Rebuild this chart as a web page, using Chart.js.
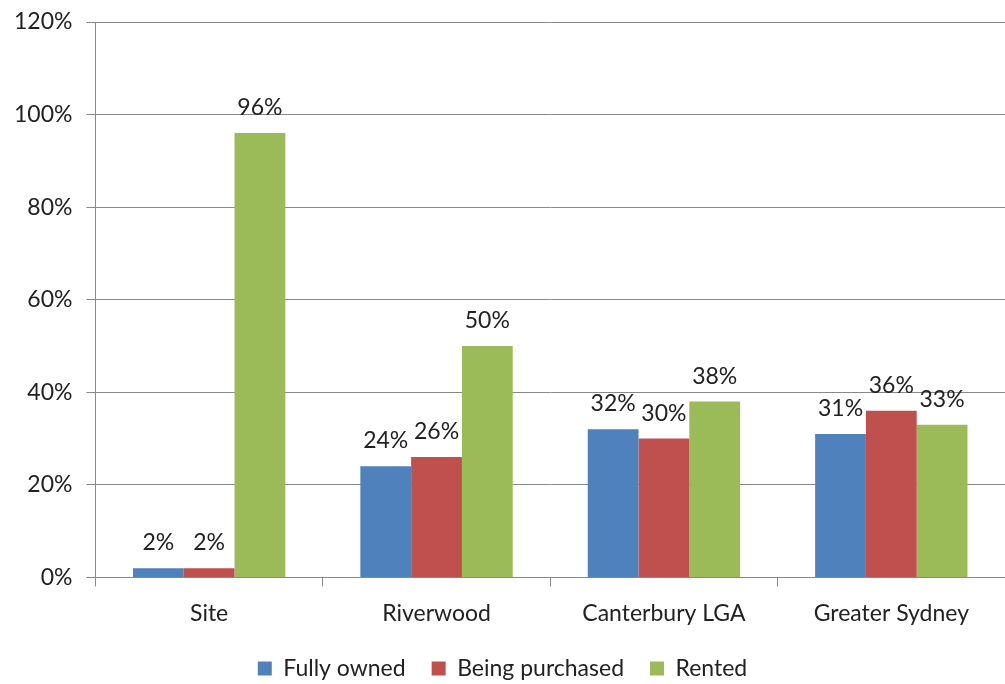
<!DOCTYPE html>
<html>
<head>
<meta charset="utf-8">
<script src="https://cdn.jsdelivr.net/npm/chart.js@4/dist/chart.umd.min.js"></script>
<style>
  html, body { margin: 0; padding: 0; background: #fff; }
  #wrap { width: 1005px; height: 684px; }
</style>
</head>
<body>
<div id="wrap"><canvas id="tenureChart"></canvas></div>
<script>
const areas = ['Site', 'Riverwood', 'Canterbury LGA', 'Greater Sydney'];
const fullyOwned = [2, 24, 32, 31];
const beingPurchased = [2, 26, 30, 36];
const rented = [96, 50, 38, 33];
const yTicks = [0, 20, 40, 60, 80, 100, 120];

const FONT = 'Lato, "Open Sans", sans-serif';
const SIZE = 23;

// writes the percentage above every bar
const valueLabels = {
    id: 'valueLabels',
    afterDatasetsDraw(chart) {
        const ctx = chart.ctx;
        ctx.save();
        ctx.font = SIZE + 'px ' + FONT;
        ctx.fillStyle = '#222';
        ctx.textAlign = 'center';
        ctx.textBaseline = 'alphabetic';
        chart.data.datasets.forEach((ds, i) => {
            chart.getDatasetMeta(i).data.forEach((bar, j) => {
                ctx.fillText(ds.data[j] + '%', bar.x, bar.y - 18);
            });
        });
        ctx.restore();
    }
};

// push the legend a little closer to the bottom edge
const legendDown = {
    id: 'legendDown',
    afterLayout(chart) {
        chart.legend.top += 6;
        chart.legend.bottom += 6;
    }
};

const ctx = document.getElementById('tenureChart').getContext('2d');
new Chart(ctx, {
    type: 'bar',
    data: {
        labels: areas,
        datasets: [
            { label: 'Fully owned', data: fullyOwned, backgroundColor: '#4F81BD' },
            { label: 'Being purchased', data: beingPurchased, backgroundColor: '#C0504D' },
            { label: 'Rented', data: rented, backgroundColor: '#9BBB59' }
        ]
    },
    options: {
        responsive: true,
        maintainAspectRatio: false,
        animation: false,
        layout: { padding: 0 },
        datasets: {
            bar: { categoryPercentage: 0.67, barPercentage: 1.0 }
        },
        plugins: {
            legend: {
                position: 'bottom',
                labels: {
                    boxWidth: 14,
                    boxHeight: 14,
                    padding: 26,
                    color: '#222',
                    font: { family: FONT, size: SIZE }
                }
            },
            tooltip: { enabled: false }
        },
        scales: {
            y: {
                min: 0,
                max: 120,
                afterBuildTicks: axis => { axis.ticks = yTicks.map(v => ({ value: v })); },
                border: { color: '#888' },
                grid: { color: '#888', tickLength: 9 },
                ticks: {
                    color: '#222',
                    padding: 14,
                    // small line height so the top label needs less room above the plot
                    font: { family: FONT, size: SIZE, lineHeight: 0.7 },
                    callback: v => v + '%'
                }
            },
            x: {
                afterFit: scale => { scale.height -= 15; },
                border: { color: '#888' },
                grid: { color: '#888', drawOnChartArea: false, tickLength: 9, offset: true },
                ticks: {
                    color: '#222',
                    padding: 13,
                    font: { family: FONT, size: SIZE }
                }
            }
        }
    },
    plugins: [valueLabels, legendDown]
});
</script>
</body>
</html>
